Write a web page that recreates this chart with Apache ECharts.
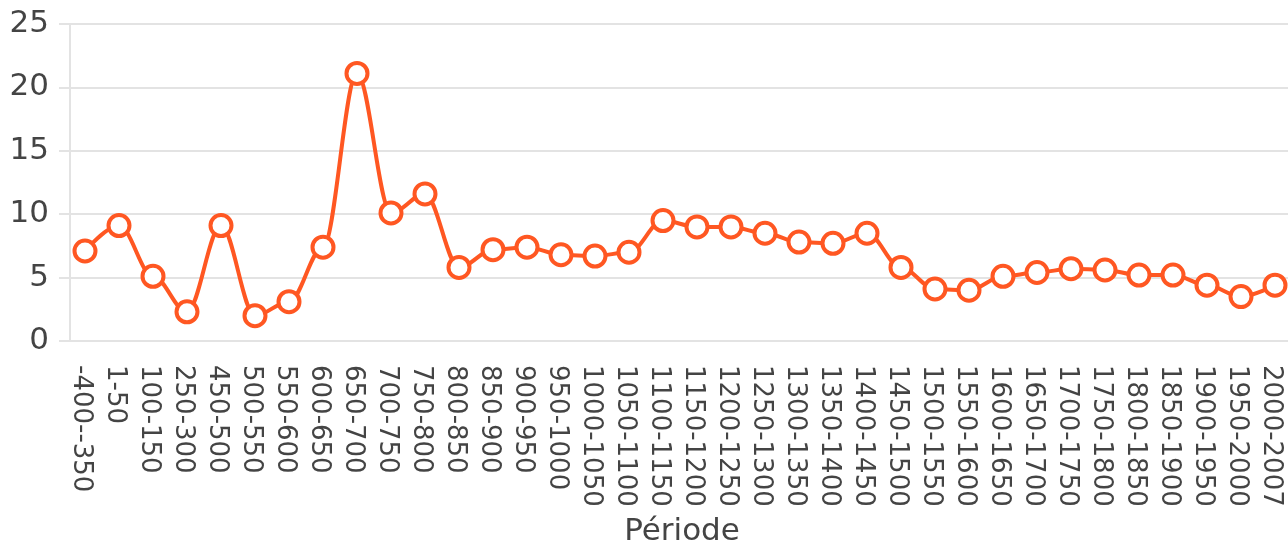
<!DOCTYPE html>
<html>
<head>
<meta charset="utf-8">
<script src="https://cdn.jsdelivr.net/npm/echarts@6/dist/echarts.min.js"></script>
<style>
  html, body { margin: 0; padding: 0; background: #fff; }
  #chart { width: 1288px; height: 544px; }
</style>
</head>
<body>
<div id="chart"></div>
<script>
// ==============================
// 数据
// ==============================
const periods = [
  '-400--350', '1-50', '100-150', '250-300', '450-500', '500-550', '550-600',
  '600-650', '650-700', '700-750', '750-800', '800-850', '850-900', '900-950',
  '950-1000', '1000-1050', '1050-1100', '1100-1150', '1150-1200', '1200-1250',
  '1250-1300', '1300-1350', '1350-1400', '1400-1450', '1450-1500', '1500-1550',
  '1550-1600', '1600-1650', '1650-1700', '1700-1750', '1750-1800', '1800-1850',
  '1850-1900', '1900-1950', '1950-2000', '2000-2007'
];

const values = [
  7.1, 9.1, 5.1, 2.3, 9.1, 2.0, 3.1,
  7.4, 21.1, 10.1, 11.6, 5.8, 7.2, 7.4,
  6.8, 6.7, 7.0, 9.5, 9.0, 9.0,
  8.5, 7.8, 7.7, 8.5, 5.8, 4.1,
  4.0, 5.1, 5.4, 5.7, 5.6, 5.2,
  5.2, 4.4, 3.5, 4.4
];

const textColor = '#444';
const lineColor = '#ff5722';
const gridColor = '#e3e3e3';
const font = 'DejaVu Sans';

// 三个重叠的网格：0 画坐标轴，1 画折线，2 画类目标签（各自略有偏移）
const gridBase = { top: 24, bottom: 203, containLabel: false, outerBoundsMode: 'none' };
const hidden = { axisLine: { show: false }, axisTick: { show: false }, splitLine: { show: false } };

const chart = echarts.init(document.getElementById('chart'));

chart.setOption({
  animation: false,
  backgroundColor: '#fff',
  grid: [
    { ...gridBase, left: 70, right: -6 },
    { ...gridBase, left: 68, right: -4 },
    { ...gridBase, left: 64, right: 0 }
  ],
  xAxis: [
    {
      gridIndex: 0,
      type: 'category',
      data: periods,
      name: 'Période',
      nameLocation: 'middle',
      nameGap: 175,
      nameTextStyle: { color: textColor, fontSize: 31, fontFamily: font },
      axisLine: { lineStyle: { color: gridColor, width: 2 } },
      axisTick: { length: 11, lineStyle: { color: gridColor, width: 2 } },
      axisLabel: { show: false }
    },
    {
      gridIndex: 1,
      type: 'category',
      data: periods,
      ...hidden,
      axisLabel: { show: false }
    },
    {
      gridIndex: 2,
      type: 'category',
      data: periods,
      ...hidden,
      axisLabel: {
        rotate: -90,
        interval: 0,
        margin: 24,
        color: textColor,
        fontSize: 26,
        fontFamily: font
      }
    }
  ],
  yAxis: [
    {
      gridIndex: 0,
      type: 'value',
      min: 0,
      max: 25,
      interval: 5,
      axisLine: { show: true, lineStyle: { color: gridColor, width: 2 } },
      axisTick: { show: true, length: 11, lineStyle: { color: gridColor, width: 2 } },
      splitLine: { lineStyle: { color: gridColor, width: 2 } },
      axisLabel: { margin: 21, color: textColor, fontSize: 31, fontFamily: font }
    },
    { gridIndex: 1, type: 'value', min: 0, max: 25, ...hidden, axisLabel: { show: false } },
    { gridIndex: 2, type: 'value', min: 0, max: 25, ...hidden, axisLabel: { show: false } }
  ],
  series: [{
    type: 'line',
    xAxisIndex: 1,
    yAxisIndex: 1,
    data: values,
    smooth: 0.35,
    smoothMonotone: 'x',
    symbol: 'circle',
    symbolSize: 21,
    lineStyle: { color: lineColor, width: 4 },
    itemStyle: { color: '#fff', borderColor: lineColor, borderWidth: 4 }
  }]
});
</script>
</body>
</html>
